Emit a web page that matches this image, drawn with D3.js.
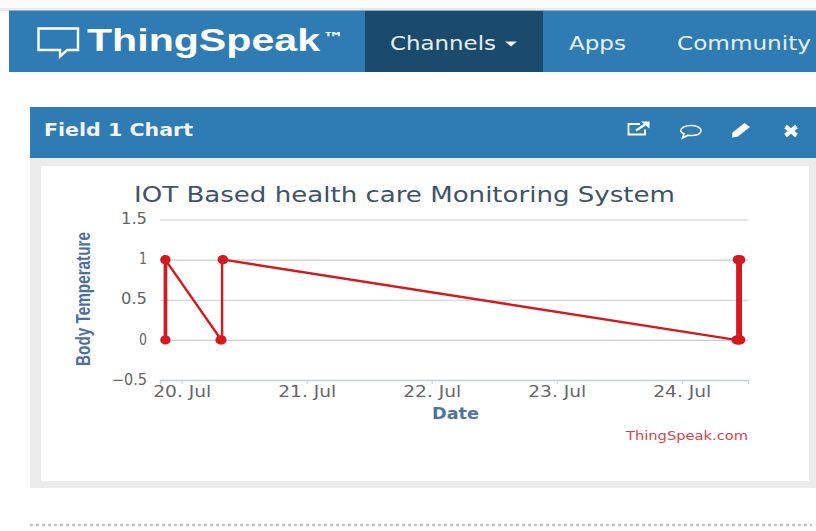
<!DOCTYPE html>
<html>
<head>
<meta charset="utf-8">
<script src="https://cdn.jsdelivr.net/npm/d3@7"></script>
<style>
  html, body { margin: 0; padding: 0; background: #fff; overflow: hidden; }
  svg { display: block; }
  text { font-family: "DejaVu Sans", sans-serif; }
</style>
</head>
<body>
<div id="svg-container"></div>
<script>
// data
const times = [
  "2018-07-19T20:45", "2018-07-19T20:45", "2018-07-19T21:00", "2018-07-19T21:00",
  "2018-07-19T20:50", "2018-07-20T07:35", "2018-07-20T07:20", "2018-07-20T07:45",
  "2018-07-20T07:45", "2018-07-20T08:00", "2018-07-20T08:00", "2018-07-24T10:25",
  "2018-07-24T10:40", "2018-07-24T10:40", "2018-07-24T11:05", "2018-07-24T11:05",
  "2018-07-24T10:50", "2018-07-24T10:50", "2018-07-24T11:20", "2018-07-24T11:20",
  "2018-07-24T11:00"
];
const values = [0, 1, 1, 0, 1, 0, 0, 0, 1, 1, 1, 0, 0, 1, 1, 0, 0, 1, 1, 0, 0];
const yTicks = [-0.5, 0, 0.5, 1, 1.5];
const xTickDays = ["2018-07-20", "2018-07-21", "2018-07-22", "2018-07-23", "2018-07-24"];
const navItems = ["Channels", "Apps", "Community"];

const width = 816, height = 531;
const parseTime = d3.timeParse("%Y-%m-%dT%H:%M");
const parseDay = d3.timeParse("%Y-%m-%d");
const data = times.map((t, i) => ({ date: parseTime(t), value: values[i] }));

const svg = d3.select("#svg-container").append("svg")
  .attr("width", width).attr("height", height);

// page furniture
const blue = "#2e7cb3";
const rect = (x, y, w, h, fill) =>
  svg.append("rect").attr("x", x).attr("y", y).attr("width", w).attr("height", h).attr("fill", fill);

rect(0, 0, width, 8, "#fbfbfb");
rect(0, 8, width, 3, "#e9e9e9");
rect(9, 10.5, width - 9, 61.5, blue);
rect(365, 11, 178, 61, "#1b4b6c");

// logo
svg.append("path")
  .attr("d", "M38.5 28.5H78V50H67L60 56.5V50H38.5Z")
  .attr("fill", "none").attr("stroke", "#fff").attr("stroke-width", 2.4);
svg.append("text").attr("x", 87).attr("y", 51)
  .style("font-family", "'Liberation Sans',sans-serif")
  .attr("font-size", 32).attr("font-weight", "bold").attr("fill", "#fff")
  .attr("textLength", 233).attr("lengthAdjust", "spacingAndGlyphs")
  .text("ThingSpeak");
svg.append("text").attr("x", 322).attr("y", 43)
  .attr("font-size", 15).attr("font-weight", "bold").attr("fill", "#fff")
  .attr("textLength", 22).attr("lengthAdjust", "spacingAndGlyphs")
  .text("™");

// nav
const navX = [390, 569, 677], navLen = [106, 57, 134];
svg.selectAll(".nav").data(navItems).enter().append("text")
  .attr("class", "nav")
  .attr("x", (d, i) => navX[i]).attr("y", 49.5)
  .attr("font-size", 19).attr("fill", "#e8f0f5")
  .attr("textLength", (d, i) => navLen[i]).attr("lengthAdjust", "spacingAndGlyphs")
  .text((d) => d);
svg.append("path").attr("d", "M505 41.5H517L511 46.5Z").attr("fill", "#eef3f6");

// panel
rect(30, 107, width - 30, 51, blue);
rect(30, 158, width - 30, 330, "#ececec");
rect(41, 166, 768, 315, "#fff");
svg.append("text").attr("x", 44).attr("y", 135.5)
  .attr("font-size", 18).attr("font-weight", "bold").attr("fill", "#f2f6f9")
  .attr("textLength", 149).attr("lengthAdjust", "spacingAndGlyphs")
  .text("Field 1 Chart");

// panel icons
const icons = svg.append("g").attr("fill", "none").attr("stroke", "#fff");
icons.append("path").attr("stroke-width", 1.8)
  .attr("d", "M640 124H628.5V134.5H645V129.5");
icons.append("path").attr("stroke-width", 2.2).attr("d", "M636 130.5L645 124.5");
icons.append("path").attr("fill", "#fff").attr("stroke", "none").attr("d", "M641 121.5H649.5V128.5Z");
icons.append("path").attr("stroke-width", 1.6)
  .attr("d", "M691 125.5C697 125.5 701 128 701 130.5C701 133.5 697 135.5 691 135.5C690 135.5 689 135.5 688 135.2L682.5 138L684 133.8C682 133 680.8 131.8 680.8 130.5C680.8 128 685 125.5 691 125.5Z");
icons.append("path").attr("fill", "#fff").attr("stroke", "none")
  .attr("d", "M732.5 132.5L744.5 123L750 127L738 136.5L732 137.5Z");
icons.append("path").attr("stroke-width", 4.2).attr("d", "M785.5 126.5L796.5 135.5M796.5 126.5L785.5 135.5");

// chart
const margin = { top: 219.5, right: 68, bottom: 151, left: 160 };
const xScale = d3.scaleTime()
  .domain([parseTime("2018-07-19T19:50"), parseTime("2018-07-24T12:43")])
  .range([margin.left, width - margin.right]);
const yScale = d3.scaleLinear()
  .domain([-0.5, 1.5])
  .range([height - margin.bottom, margin.top]);

const yAxis = d3.axisLeft(yScale)
  .tickValues(yTicks)
  .tickSize(-(width - margin.left - margin.right))
  .tickPadding(13)
  .tickFormat((d) => String(d).replace("-", "\u2212"));

svg.append("g").attr("class", "y-axis")
  .attr("transform", `translate(${margin.left},0)`)
  .call(yAxis)
  .call((g) => g.select(".domain").remove())
  .call((g) => g.selectAll(".tick line").attr("stroke", "#c9ccd1").attr("stroke-width", 1.2))
  .call((g) => g.selectAll("text")
    .attr("fill", "#666").attr("font-size", 15).attr("dy", "0.28em")
    .attr("textLength", (d) => (d < 0 ? 35 : d % 1 ? 26 : 8))
    .attr("lengthAdjust", "spacingAndGlyphs"));

const xAxis = d3.axisBottom(xScale)
  .tickValues(xTickDays.map(parseDay))
  .tickSize(4)
  .tickPadding(1)
  .tickFormat(d3.timeFormat("%-d. %b"));

svg.append("g").attr("class", "x-axis")
  .attr("transform", `translate(0,${height - margin.bottom})`)
  .call(xAxis)
  .call((g) => g.select(".domain").attr("stroke", "#c0d0e0").attr("stroke-width", 1.4))
  .call((g) => g.selectAll(".tick line").attr("stroke", "#c0d0e0"))
  .call((g) => g.selectAll("text")
    .attr("fill", "#666").attr("font-size", 15).attr("dy", "0.78em")
    .attr("textLength", 58).attr("lengthAdjust", "spacingAndGlyphs"));

const line = d3.line()
  .x((d) => xScale(d.date))
  .y((d) => yScale(d.value));

svg.append("path").datum(data)
  .attr("fill", "none")
  .attr("stroke", "#d6181f")
  .attr("stroke-width", 2.4)
  .attr("d", line);

svg.selectAll(".pt").data(data).enter().append("circle")
  .attr("class", "pt")
  .attr("cx", (d) => xScale(d.date))
  .attr("cy", (d) => yScale(d.value))
  .attr("r", 4.5)
  .attr("fill", "#d6181f");

// titles
svg.append("text").attr("x", 134).attr("y", 202)
  .attr("font-size", 21).attr("fill", "#3e5368")
  .attr("textLength", 541).attr("lengthAdjust", "spacingAndGlyphs")
  .text("IOT Based health care Monitoring System");

svg.append("text").attr("x", 432).attr("y", 419)
  .attr("font-size", 15).attr("font-weight", "bold").attr("fill", "#4d739f")
  .attr("textLength", 47).attr("lengthAdjust", "spacingAndGlyphs")
  .text("Date");

svg.append("text")
  .attr("transform", "translate(90,366) rotate(-90)")
  .style("font-family", "'Liberation Sans Narrow','Liberation Sans',sans-serif")
  .attr("font-size", 21).attr("font-weight", "bold").attr("fill", "#4d6f9f")
  .attr("textLength", 134).attr("lengthAdjust", "spacingAndGlyphs")
  .text("Body Temperature");

svg.append("text").attr("x", 626).attr("y", 440)
  .attr("font-size", 12).attr("fill", "#d9434e")
  .attr("textLength", 122).attr("lengthAdjust", "spacingAndGlyphs")
  .text("ThingSpeak.com");

// dashed box top edge below the panel
svg.append("line")
  .attr("x1", 30).attr("x2", 812).attr("y1", 525).attr("y2", 525)
  .attr("stroke", "#c4c4c4").attr("stroke-width", 2.4).attr("stroke-dasharray", "3 3");
</script>
</body>
</html>
